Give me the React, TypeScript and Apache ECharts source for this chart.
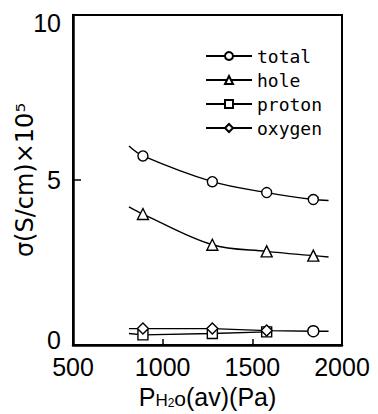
import React, { useEffect, useRef } from "react";
import * as echarts from "echarts";

// Water vapour partial pressure (Pa); first/last entries are curve extents (no marker)
const pressure = [812, 890, 1277, 1580, 1840, 1925];
const total = [6.03, 5.73, 4.95, 4.62, 4.41, 4.38];
const hole = [4.19, 3.97, 3.04, 2.84, 2.71, 2.67];
const protonX = [812, 890, 1277, 1580];
const proton = [0.35, 0.31, 0.35, 0.4];
const oxygen = [0.5, 0.5, 0.5, 0.44, 0.42, 0.42];
const xTicks = [500, 1000, 1500, 2000];
const yTicks = [0, 5, 10];

const FONT = "Liberation Sans";

function build(xs: number[], ys: number[], lastSymbol?: string) {
  return ys.map((v, i) => {
    const endpoint = i === 0 || i === ys.length - 1;
    const item: any = { value: [xs[i], v] };
    if (endpoint) item.symbol = "none";
    if (lastSymbol && i === ys.length - 2) item.symbol = lastSymbol;
    return item;
  });
}

export default function App() {
  const ref = useRef<HTMLDivElement>(null);
  useEffect(() => {
    if (!ref.current) return;
    const chart = echarts.init(ref.current, undefined, { renderer: "svg" });
    const lineStyle = { color: "#000", width: 1.4 };
    const itemStyle = { color: "#fff", borderColor: "#000", borderWidth: 1.4 };
    const common = {
      type: "line",
      smooth: 0.35,
      showSymbol: true,
      lineStyle,
      itemStyle,
      symbolSize: 10,
      z: 3,
    };
    chart.setOption({
      animation: false,
      backgroundColor: "#fff",
      grid: {
        left: 73,
        right: 36,
        top: 15,
        bottom: 66,
        show: true,
        borderColor: "#000",
        borderWidth: 2,
        backgroundColor: "transparent",
      },
      legend: {
        orient: "vertical",
        left: 200,
        top: 42,
        itemWidth: 46,
        itemHeight: 10,
        itemGap: 6,
        textStyle: { fontFamily: "DejaVu Sans Mono", fontSize: 18, color: "#000" },
        data: ["total", "hole", "proton", "oxygen"],
      },
      xAxis: {
        type: "value",
        min: 500,
        max: 2000,
        interval: 500,
        axisLine: { show: true, lineStyle: { color: "#000", width: 2.5 } },
        axisTick: { show: true, inside: true, length: 6, lineStyle: { color: "#000", width: 1.5 } },
        splitLine: { show: false },
        axisLabel: {
          color: "#000",
          fontFamily: FONT,
          fontSize: 25,
          margin: 9,
          formatter: (v: number) => (xTicks.includes(v) ? String(v) : ""),
        },
        name: "{p|P}{h|H}{s|2}{o|o}{p|(av)(Pa)}",
        nameLocation: "middle",
        nameGap: 33,
        nameTextStyle: {
          rich: {
            p: { fontFamily: FONT, fontSize: 25, lineHeight: 28, color: "#000", verticalAlign: "bottom" },
            h: { fontFamily: FONT, fontSize: 17, lineHeight: 28, color: "#000", verticalAlign: "bottom" },
            s: { fontFamily: FONT, fontSize: 12, lineHeight: 24, color: "#000", verticalAlign: "bottom" },
            o: { fontFamily: FONT, fontSize: 21, lineHeight: 28, color: "#000", verticalAlign: "bottom" },
          },
        },
      },
      yAxis: {
        type: "value",
        min: 0,
        max: 10,
        interval: 5,
        axisLine: { show: true, lineStyle: { color: "#000", width: 2.5 } },
        axisTick: { show: true, inside: true, length: 8, lineStyle: { color: "#000", width: 1.5 } },
        splitLine: { show: false },
        axisLabel: {
          color: "#000",
          fontFamily: FONT,
          fontSize: 25,
          margin: 12,
          formatter: (v: number) => {
            if (!yTicks.includes(v)) return "";
            if (v === 0) return "{lo|0}";
            if (v === 10) return "{hi|10}";
            return String(v);
          },
          rich: {
            lo: { fontFamily: FONT, fontSize: 25, color: "#000", padding: [0, 0, 10, 0] },
            hi: { fontFamily: FONT, fontSize: 25, color: "#000", padding: [16, 0, 0, 0] },
          },
        },
        name: "σ(S/cm)×10⁵",
        nameLocation: "middle",
        nameGap: 36,
        nameMoveOverlap: false,
        nameTextStyle: { fontFamily: "DejaVu Sans", fontSize: 24, color: "#000" },
      },
      series: [
        { ...common, name: "total", symbol: "circle", data: build(pressure, total) },
        { ...common, name: "hole", symbol: "triangle", symbolSize: 11, data: build(pressure, hole) },
        {
          ...common,
          name: "proton",
          symbol: "rect",
          smooth: false,
          data: proton.map((v, i) => (i === 0 ? { value: [protonX[i], v], symbol: "none" } : { value: [protonX[i], v] })),
        },
        {
          ...common,
          name: "oxygen",
          symbol: "diamond",
          symbolSize: 11,
          smooth: false,
          data: build(pressure, oxygen, "circle"),
        },
      ],
    });
    return () => chart.dispose();
  }, []);
  return (
    <div style={{ position: "absolute", left: 0, top: 0 }}>
      <div ref={ref} style={{ width: 378, height: 414 }} />
    </div>
  );
}
